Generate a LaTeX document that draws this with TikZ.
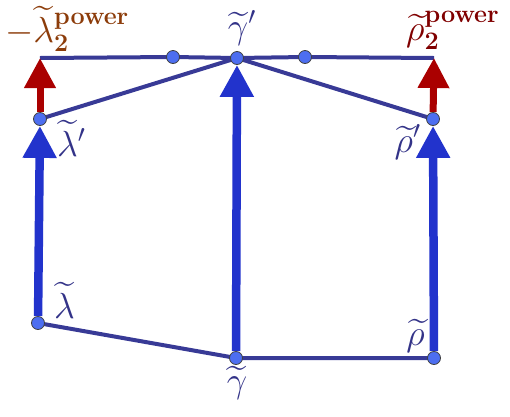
\documentclass[tikz,border=0pt]{standalone}
\usepackage{amsmath}
\usepackage{amssymb}
\usepackage{tikz}
\usetikzlibrary{arrows.meta, backgrounds}
\definecolor{lineColor}{RGB}{56,58,150}
\definecolor{arrowBlue}{RGB}{34,51,204}
\definecolor{arrowRed}{RGB}{170,0,0}
\definecolor{dotColor}{RGB}{77,110,240}
\definecolor{labelColor}{RGB}{51,51,136}
\definecolor{lamColor}{RGB}{140,60,10}
\definecolor{rhoColor}{RGB}{128,0,0}
\newcommand{\bigsym}[1]{\scalebox{1.75}{$#1$}}

\begin{document}
\begin{tikzpicture}[x=1pt, y=-1pt,
    dot/.style={circle, fill=dotColor, draw=black!75, line width=0.8pt, inner sep=0pt, minimum size=13pt},
    navyline/.style={lineColor, line width=4pt},
    bluearrow/.style={arrowBlue, line width=8.5pt, -{Triangle[width=32pt, length=32pt]}},
    redarrow/.style={arrowRed, line width=7pt, -{Triangle[width=30pt, length=30pt]}},
    lbl/.style={labelColor, font=\huge, inner sep=1pt}]
    \useasboundingbox (0,0) rectangle (510,416);
    % points
    \coordinate (lamtop) at (40,58);
    \coordinate (rhotop) at (434,58);
    \node[dot] (lam) at (38,323) {};
    \node[dot] (gam) at (236,358) {};
    \node[dot] (rho) at (434,358) {};
    \node[dot] (lamp) at (40,119) {};
    \node[dot] (gamp) at (237,58) {};
    \node[dot] (rhop) at (433,119) {};
    \node[dot] (midl) at (173,57) {};
    \node[dot] (midr) at (305,57) {};
    \begin{scope}[on background layer]
    % connecting lines
    \draw[navyline] (lamtop) -- (midl.center) -- (gamp.center) -- (midr.center) -- (rhotop);
    \draw[navyline] (lamp.center) -- (gamp.center) -- (rhop.center);
    \draw[navyline] (lam.center) -- (gam.center) -- (rho.center);
    % arrows
    \draw[bluearrow] (lam) -- (lamp);
    \draw[bluearrow] (gam) -- (gamp);
    \draw[bluearrow] (rho) -- (rhop);
    \draw[redarrow] (lamp) -- (lamtop);
    \draw[redarrow] (rhop) -- (rhotop);
    \end{scope}
    % labels
    \node[lbl, anchor=base west] at (53,318) {\bigsym{\widetilde{\lambda}}};
    \node[lbl, anchor=base] at (237,392) {\bigsym{\widetilde{\gamma}}};
    \node[lbl, anchor=base east] at (426,345) {\bigsym{\widetilde{\rho}}};
    \node[lbl, anchor=base west] at (56,156) {\bigsym{\widetilde{\lambda}'}};
    \node[lbl, anchor=base east] at (422,152) {\bigsym{\widetilde{\rho}'}};
    \node[lbl, anchor=base] at (242,38) {\bigsym{\widetilde{\gamma}'}};
    \node[lbl, lamColor, anchor=base west] at (4,42)
        {\bigsym{-\widetilde{\lambda}_{\mathbf{2}}^{\textbf{power}}}};
    \node[lbl, rhoColor, anchor=base west] at (405,40)
        {\bigsym{\widetilde{\rho}_{\mathbf{2}}^{\textbf{power}}}};
\end{tikzpicture}
\end{document}
